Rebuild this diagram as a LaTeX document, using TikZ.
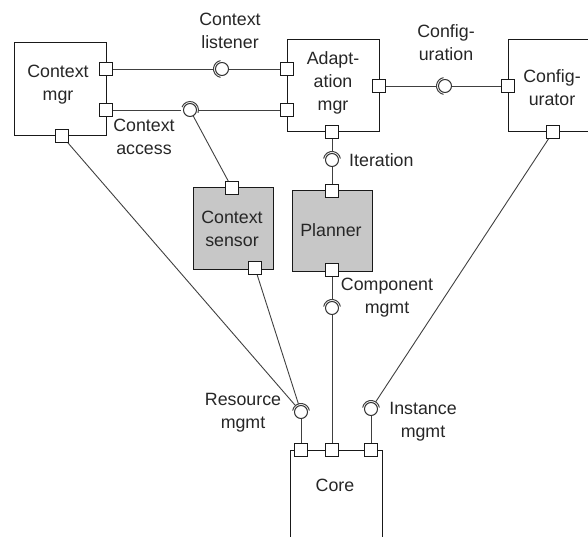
\documentclass[tikz,border=0pt]{standalone}
\usepackage{fontspec}
\setmainfont{Liberation Sans}
\begin{document}
\begin{tikzpicture}[x=1pt,y=-1pt,
  comp/.style={draw=black!90, line width=1pt, inner sep=0, rectangle},
  gcomp/.style={comp, fill=black!22},
  port/.style={draw=black!90, fill=white, line width=0.9pt, minimum size=13pt, inner sep=0, rectangle},
  ball/.style={circle, draw=black!80, line width=1pt, fill=white, minimum size=13pt, inner sep=0},
  sock/.style={circle, minimum size=17pt, inner sep=0},
  conn/.style={draw=black!75, line width=0.9pt},
  arcst/.style={draw=black!75, line width=1pt},
  lbl/.style={font=\fontsize{17.8}{23}\selectfont, align=center, inner sep=0, text=black!85}
]
\useasboundingbox (0,0) rectangle (588,537);
\begin{scope}
\clip (0,0) rectangle (588,537);
% components
\node[comp, minimum width=92pt, minimum height=93pt] (cm) at (60,89.5) {};
\node[comp, minimum width=92pt, minimum height=92pt] (am) at (333,86) {};
\node[comp, minimum width=80pt, minimum height=92pt] (cf) at (548,86) {};
\node[gcomp, minimum width=80pt, minimum height=81pt] (cs) at (233,228.5) {};
\node[gcomp, minimum width=80pt, minimum height=80pt] (pl) at (332,231) {};
\node[comp, minimum width=92pt, minimum height=120pt] (co) at (336,510) {};
% ports
\node[port] (cmA) at (106,69) {};
\node[port] (cmB) at (106,110) {};
\node[port] (cmC) at (62,136) {};
\node[port] (amA) at (287,69) {};
\node[port] (amB) at (287,110) {};
\node[port] (amC) at (379,86) {};
\node[port] (amD) at (332,132) {};
\node[port] (cfA) at (508,86) {};
\node[port] (cfB) at (553,132) {};
\node[port] (csA) at (232,188) {};
\node[port] (csB) at (255,268) {};
\node[port] (plA) at (332,191) {};
\node[port] (plB) at (332,270) {};
\node[port] (coA) at (301,450) {};
\node[port] (coB) at (332,450) {};
\node[port] (coC) at (371,450) {};
% lollipops
\node[ball] (cl) at (222,69) {}; \node[sock] (cls) at (222,69) {};
\node[ball] (ca) at (190,110) {}; \node[sock] (cas) at (190,110) {};
\node[ball] (cg) at (445,86) {}; \node[sock] (cgs) at (445,86) {};
\node[ball] (it) at (332,160) {}; \node[sock] (its) at (332,160) {};
\node[ball] (cp) at (332,308) {}; \node[sock] (cps) at (332,308) {};
\node[ball] (rm) at (301,412) {}; \node[sock] (rms) at (301,412) {};
\node[ball] (im) at (371,409) {}; \node[sock] (ims) at (371,409) {};
% connectors
\draw[conn] (cmA) -- (cls);
\draw[conn] (cl) -- (amA);
\draw[conn] (cmB) -- (cas);
\draw[conn] (cas) -- (amB);
\draw[conn] (ca) -- (csA);
\draw[conn] (amC) -- (cgs);
\draw[conn] (cg) -- (cfA);
\draw[conn] (amD) -- (its);
\draw[conn] (it) -- (plA);
\draw[conn] (plB) -- (cps);
\draw[conn] (cp) -- (coB);
\draw[conn] (cmC) -- (rms);
\draw[conn] (csB) -- (rms);
\draw[conn] (rm) -- (coA);
\draw[conn] (cfB) -- (ims);
\draw[conn] (im) -- (coC);
% sockets
\draw[arcst] (cl.center) ++(100:8.5) arc[start angle=100, end angle=260, radius=8.5];
\draw[arcst] (ca.center) ++(200:8.5) arc[start angle=200, end angle=380, radius=8.5];
\draw[arcst] (cg.center) ++(100:8.5) arc[start angle=100, end angle=260, radius=8.5];
\draw[arcst] (it.center) ++(190:8.5) arc[start angle=190, end angle=350, radius=8.5];
\draw[arcst] (cp.center) ++(190:8.5) arc[start angle=190, end angle=350, radius=8.5];
\draw[arcst] (rm.center) ++(190:8.5) arc[start angle=190, end angle=350, radius=8.5];
\draw[arcst] (im.center) ++(190:8.5) arc[start angle=190, end angle=350, radius=8.5];
\end{scope}
% labels
\node[lbl] (tcm) at (58,85) {Context\\mgr};
\node[lbl] (tam) at (333,83) {Adapt-\\ation\\mgr};
\node[lbl] (tcf) at (552,88) {Config-\\urator};
\node[lbl] (tcs) at (232,229) {Context\\sensor};
\node[lbl] (tpl) at (331,230) {Planner};
\node[lbl] (tco) at (335,485) {Core};
\node[lbl] (tcl) at (230,31) {Context\\listener};
\node[lbl] (tca) at (144,137) {Context\\access};
\node[lbl] (tcg) at (446,43) {Config-\\uration};
\node[lbl, anchor=west] (tit) at (349,160) {Iteration};
\node[lbl] (tcp) at (387,298) {Component\\mgmt};
\node[lbl] (trm) at (243,413) {Resource\\mgmt};
\node[lbl] (tim) at (423,422) {Instance\\mgmt};
\end{tikzpicture}
\end{document}
